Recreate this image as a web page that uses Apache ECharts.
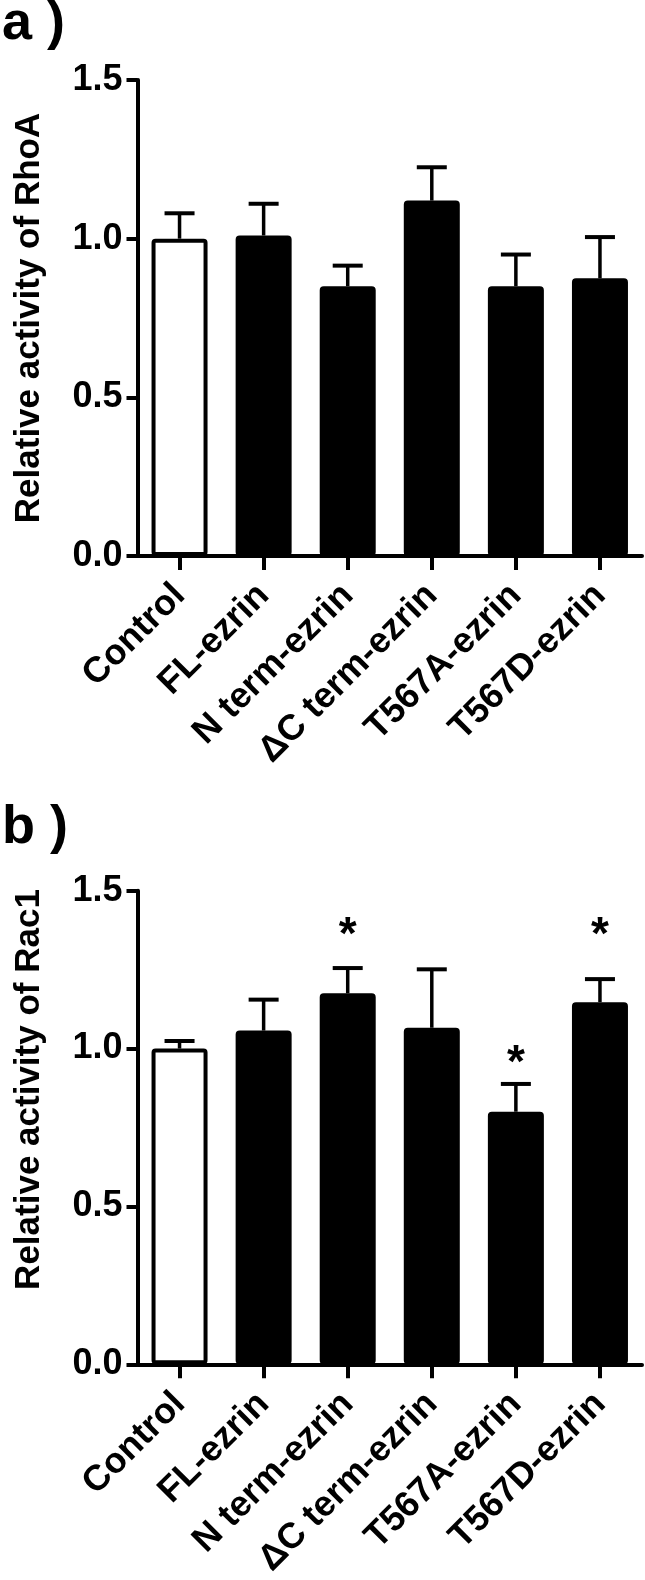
<!DOCTYPE html>
<html>
<head>
<meta charset="utf-8">
<script src="https://cdn.jsdelivr.net/npm/echarts@6/dist/echarts.min.js"></script>
<style>
html,body{margin:0;padding:0;background:#fff;}
#chart{width:645px;height:1580px;}
</style>
</head>
<body>
<div id="chart"></div>
<script>
const categories = ['Control', 'FL-ezrin', 'N term-ezrin', 'ΔC term-ezrin', 'T567A-ezrin', 'T567D-ezrin'];
const rhoaMean  = [1.00, 1.01, 0.85, 1.12, 0.85, 0.875];
const rhoaUpper = [1.08, 1.11, 0.915, 1.225, 0.95, 1.005];
const rac1Mean  = [1.00, 1.057, 1.175, 1.066, 0.80, 1.147];
const rac1Upper = [1.024, 1.155, 1.255, 1.251, 0.888, 1.22];
const rac1Star  = [null, null, 1.39, null, 0.985, 1.39];
const yTickLabels = ['0.0', '0.5', '1.0', '1.5'];
const panelLabels = ['a )', 'b )'];
const yNames = ['Relative activity of RhoA', 'Relative activity of Rac1'];

const FONT = 'Arial, "Liberation Sans", sans-serif';
const chart = echarts.init(document.getElementById('chart'), null, {renderer: 'canvas'});

function barData(vals) {
  return vals.map((v, i) => ({
    value: v,
    itemStyle: {color: i === 0 ? '#ffffff' : '#000000'}
  }));
}
function errData(mean, upper) {
  return mean.map((m, i) => [i, m, upper[i]]);
}
function errRender(params, api) {
  const x = api.value(0);
  const lo = api.coord([x, api.value(1)]);
  const hi = api.coord([x, api.value(2)]);
  return {
    type: 'group',
    children: [
      {type: 'line', shape: {x1: lo[0], y1: lo[1], x2: hi[0], y2: hi[1]}, style: {stroke: '#000', lineWidth: 3.5}},
      {type: 'line', shape: {x1: hi[0] - 15, y1: hi[1], x2: hi[0] + 15, y2: hi[1]}, style: {stroke: '#000', lineWidth: 4}}
    ]
  };
}
function starRender(params, api) {
  const p = api.coord([api.value(0), api.value(1)]);
  return {
    type: 'text', x: p[0], y: p[1] + 11,
    style: {text: '*', font: 'bold 46px ' + FONT, fill: '#000', align: 'center', verticalAlign: 'middle'}
  };
}
function xAxisCfg(idx) {
  return {
    type: 'category', gridIndex: idx, data: categories,
    axisLine: {show: true, lineStyle: {color: '#000', width: 4}},
    axisTick: {show: true, alignWithLabel: true, length: 14, lineStyle: {color: '#000', width: 4}},
    axisLabel: {interval: 0, rotate: 45, margin: 34, color: '#000', fontSize: 36, fontWeight: 'bold', fontFamily: FONT},
    splitLine: {show: false}
  };
}
function yAxisCfg(idx) {
  return {
    type: 'value', gridIndex: idx, min: 0, max: 1.5, interval: 0.5,
    name: yNames[idx], nameLocation: 'middle', nameGap: 91, nameRotate: 90,
    nameTextStyle: {color: '#000', fontSize: 35, fontWeight: 'bold', fontFamily: FONT,
      padding: idx === 1 ? [0, 0, 0, 76] : 0},
    axisLine: {show: true, lineStyle: {color: '#000', width: 4}},
    axisTick: {show: true, length: 11, lineStyle: {color: '#000', width: 4}},
    axisLabel: {margin: 15, color: '#000', fontSize: 36, fontWeight: 'bold', fontFamily: FONT,
      formatter: v => yTickLabels[Math.round(v / 0.5)]},
    splitLine: {show: false}
  };
}

const starData = rac1Star.map((v, i) => [i, v]).filter(d => d[1] !== null);

const option = {
  backgroundColor: '#fff',
  animation: false,
  graphic: [
    {type: 'text', left: 2, top: -3, style: {text: panelLabels[0], font: 'bold 54px ' + FONT, fill: '#000'}},
    {type: 'text', left: 2, top: 801, style: {text: panelLabels[1], font: 'bold 54px ' + FONT, fill: '#000'}}
  ],
  grid: [
    {left: 137.5, width: 504.5, top: 80, height: 476},
    {left: 137.5, width: 504.5, top: 890.7, height: 478}
  ],
  xAxis: [xAxisCfg(0), xAxisCfg(1)],
  yAxis: [yAxisCfg(0), yAxisCfg(1)],
  series: [
    {type: 'bar', xAxisIndex: 0, yAxisIndex: 0, data: barData(rhoaMean), barWidth: 56,
      itemStyle: {borderColor: '#000', borderWidth: 4, borderRadius: 2}, z: 2},
    {type: 'custom', xAxisIndex: 0, yAxisIndex: 0, data: errData(rhoaMean, rhoaUpper),
      encode: {x: 0, y: [1, 2]}, renderItem: errRender, z: 1},
    {type: 'bar', xAxisIndex: 1, yAxisIndex: 1, data: barData(rac1Mean), barWidth: 56,
      itemStyle: {borderColor: '#000', borderWidth: 4, borderRadius: 2}, z: 2},
    {type: 'custom', xAxisIndex: 1, yAxisIndex: 1, data: errData(rac1Mean, rac1Upper),
      encode: {x: 0, y: [1, 2]}, renderItem: errRender, z: 1},
    {type: 'custom', xAxisIndex: 1, yAxisIndex: 1, data: starData,
      encode: {x: 0, y: 1}, renderItem: starRender, z: 3}
  ]
};
chart.setOption(option);
</script>
</body>
</html>
